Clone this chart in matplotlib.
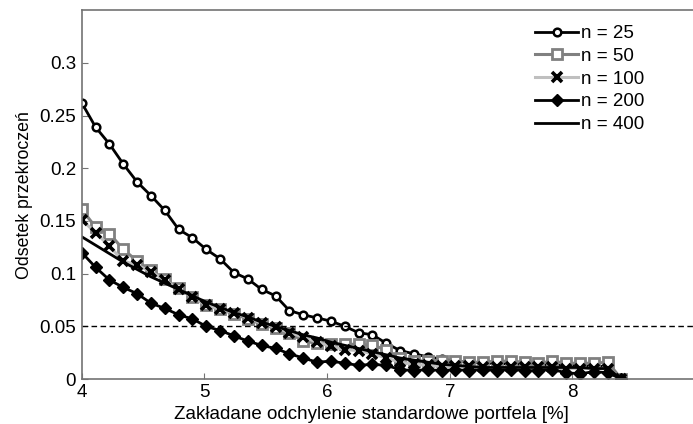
import numpy as np
import matplotlib
matplotlib.use("Agg")
import matplotlib.pyplot as plt

plt.rcParams["font.family"] = ["Liberation Sans", "DejaVu Sans"]

# ── Data ─────────────────────────────────────────────────────────────────────
# assumed portfolio std-dev grid [%]
sigma = np.linspace(4.0, 8.4, 40)

n25 = [0.262, 0.239, 0.223, 0.204, 0.187, 0.174, 0.160, 0.142, 0.134, 0.123,
       0.114, 0.101, 0.095, 0.085, 0.079, 0.065, 0.061, 0.058, 0.055, 0.050,
       0.044, 0.042, 0.034, 0.027, 0.024, 0.021, 0.019, 0.017, 0.016, 0.015,
       0.015, 0.014, 0.014, 0.014, 0.013, 0.013, 0.013, 0.012, 0.012, 0.000]
n50 = [0.161, 0.144, 0.138, 0.123, 0.112, 0.103, 0.095, 0.086, 0.078, 0.070,
       0.066, 0.062, 0.057, 0.052, 0.048, 0.044, 0.036, 0.034, 0.033, 0.033,
       0.033, 0.032, 0.028, 0.020, 0.017, 0.017, 0.017, 0.017, 0.016, 0.016,
       0.017, 0.017, 0.016, 0.015, 0.017, 0.015, 0.015, 0.015, 0.016, 0.000]
n100 = [0.151, 0.139, 0.126, 0.112, 0.108, 0.102, 0.094, 0.085, 0.078, 0.070,
        0.066, 0.063, 0.058, 0.053, 0.049, 0.044, 0.040, 0.035, 0.031, 0.028,
        0.027, 0.024, 0.020, 0.016, 0.014, 0.013, 0.012, 0.012, 0.012, 0.011,
        0.011, 0.011, 0.011, 0.011, 0.011, 0.010, 0.010, 0.010, 0.010, 0.000]
n200 = [0.120, 0.106, 0.094, 0.087, 0.081, 0.072, 0.067, 0.061, 0.057, 0.050,
        0.046, 0.041, 0.036, 0.032, 0.029, 0.024, 0.020, 0.016, 0.017, 0.015,
        0.013, 0.014, 0.013, 0.009, 0.008, 0.009, 0.008, 0.009, 0.008, 0.009,
        0.008, 0.009, 0.008, 0.008, 0.009, 0.006, 0.005, 0.007, 0.006, 0.000]
n400 = [0.135, 0.127, 0.119, 0.111, 0.104, 0.097, 0.091, 0.085, 0.079, 0.073,
        0.068, 0.063, 0.059, 0.054, 0.050, 0.046, 0.042, 0.039, 0.035, 0.032,
        0.029, 0.026, 0.023, 0.020, 0.018, 0.016, 0.014, 0.013, 0.012, 0.011,
        0.011, 0.011, 0.011, 0.011, 0.011, 0.011, 0.011, 0.010, 0.010, 0.000]

threshold = 0.05
xticks = [4, 5, 6, 7, 8]
yticks = [0, 0.05, 0.1, 0.15, 0.2, 0.25, 0.3]
ytick_labels = ["0", "0.05", "0.1", "0.15", "0.2", "0.25", "0.3"]

# ── Plot ─────────────────────────────────────────────────────────────────────
fig = plt.figure(figsize=(6.93, 4.24), dpi=100)
ax = fig.add_axes([0.118, 0.106, 0.885, 0.870])

ax.plot(sigma, n25, color="black", lw=2, marker="o", ms=5.5,
        mfc="white", mec="black", mew=1.8, label="n = 25")
ax.plot(sigma, n50, color="0.5", lw=2.2, marker="s", ms=6.5,
        mfc="white", mec="0.5", mew=2, label="n = 50")
ax.plot(sigma, n100, color="0.75", lw=2.2, marker="x", ms=6.5,
        mec="black", mew=2.6, label="n = 100")
ax.plot(sigma, n200, color="black", lw=2, marker="D", ms=6.5,
        mfc="black", mec="black", label="n = 200")
ax.plot(sigma, n400, color="black", lw=2, label="n = 400")

ax.axhline(threshold, color="black", lw=1, ls=(0, (4, 2.5)))

ax.set_xlim(4, 9)
ax.set_ylim(0, 0.35)
ax.set_xticks(xticks)
ax.set_yticks(yticks)
ax.set_yticklabels(ytick_labels)
ax.tick_params(direction="in", length=4, color="0.45", labelsize=13.5)
ax.tick_params(axis="y", pad=4)
for side in ax.spines.values():
    side.set_color("0.45")
    side.set_linewidth(1.2)

ax.set_xlabel("Zakładane odchylenie standardowe portfela [%]", fontsize=13.5)
ax.xaxis.set_label_coords(0.473, -0.072)
ax.set_ylabel("Odsetek przekroczeń", fontsize=12.8, labelpad=5)

ax.legend(loc="upper right", frameon=False, fontsize=13.5, handlelength=2.3,
          handletextpad=0.15, labelspacing=0.3, borderaxespad=0,
          bbox_to_anchor=(0.93, 0.98))

fig.savefig("out.png", dpi=100)
